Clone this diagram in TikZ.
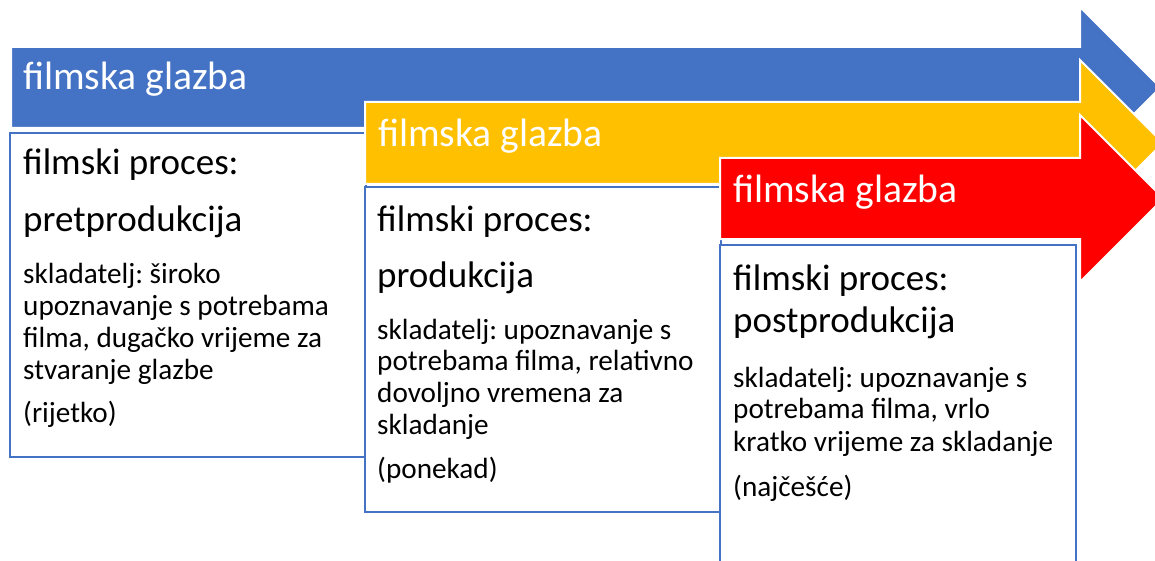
\documentclass[tikz,border=0pt]{standalone}
\usepackage{fontspec}
\setmainfont{Carlito}
\frenchspacing
\definecolor{cblue}{HTML}{4472C4}
\definecolor{cyellow}{HTML}{FFC000}
\definecolor{cred}{HTML}{FF0000}
\tikzset{
  arrowshape/.style={draw=white, line width=2pt, line join=miter},
  boxshape/.style={draw=cblue, fill=white, line width=2pt},
  ttl/.style={anchor=base west, inner sep=0pt, text=white, font=\fontsize{39.6}{47}\selectfont\frenchspacing},
  head/.style={anchor=base west, inner sep=0pt, font=\fontsize{37}{44}\selectfont\frenchspacing},
  body/.style={anchor=base west, inner sep=0pt, font=\fontsize{29.2}{34}\selectfont\frenchspacing},
}
\begin{document}
\begin{tikzpicture}[x=1pt,y=-1pt]
\useasboundingbox (0,0) rectangle (1155,561);
\clip (0,0) rectangle (1155,561);
% blue arrow
\path[arrowshape, fill=cblue] (11,47) -- (1080,47) -- (1080,7) -- (1160.5,87.5) -- (1080,168) -- (1080,128) -- (11,128) -- cycle;
\node[ttl] (t1) at (23,90) {filmska glazba};
% box 1
\path[boxshape] (10,133) rectangle (366,457);
\node[head] (h1a) at (23,175) {filmski proces:};
\node[head] (h1b) at (23,232) {pretprodukcija};
\node[body] (b1a) at (23,283) {skladatelj: široko};
\node[body] (b1b) at (23,315) {upoznavanje s potrebama};
\node[body] (b1c) at (23,347) {filma, dugačko vrijeme za};
\node[body] (b1d) at (23,379) {stvaranje glazbe};
\node[body] (b1e) at (23,422) {(rijetko)};
% yellow arrow
\path[arrowshape, fill=cyellow] (365,102) -- (1080,102) -- (1080,60) -- (1163,143) -- (1080,226) -- (1080,184) -- (365,184) -- cycle;
\node[ttl] (t2) at (378,147) {filmska glazba};
% box 2
\path[boxshape] (365,187) rectangle (721,512);
\node[head] (h2a) at (377,232) {filmski proces:};
\node[head] (h2b) at (377,287) {produkcija};
\node[body] (b2a) at (377,339) {skladatelj: upoznavanje s};
\node[body] (b2b) at (377,370) {potrebama filma, relativno};
\node[body] (b2c) at (377,402) {dovoljno vremena za};
\node[body] (b2d) at (377,434) {skladanje};
\node[body] (b2e) at (377,478) {(ponekad)};
% red arrow
\path[arrowshape, fill=cred] (720,158) -- (1080,158) -- (1080,115) -- (1163.5,198.5) -- (1080,282) -- (1080,239) -- (720,239) -- cycle;
\node[ttl] (t3) at (733,203) {filmska glazba};
% box 3
\path[boxshape] (720,245) rectangle (1076,600);
\node[head] (h3a) at (733,290) {filmski proces:};
\node[head] (h3b) at (733,332) {postprodukcija};
\node[body] (b3a) at (733,387) {skladatelj: upoznavanje s};
\node[body] (b3b) at (733,418) {potrebama filma, vrlo};
\node[body] (b3c) at (733,451) {kratko vrijeme za skladanje};
\node[body] (b3d) at (733,496) {(najčešće)};
\end{tikzpicture}
\end{document}
